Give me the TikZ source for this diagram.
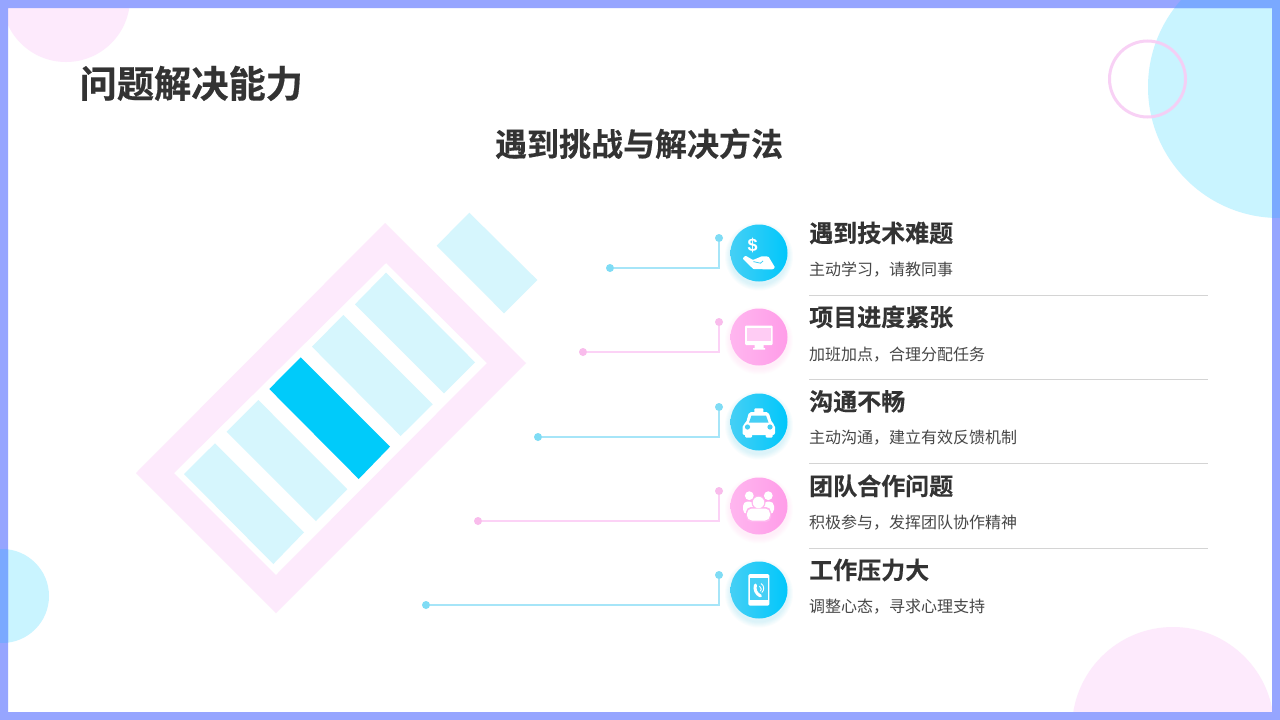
\documentclass[tikz,border=0pt]{standalone}
\usepackage{fontspec}
\setmainfont{Noto Sans CJK SC}
\newfontfamily\cjkbold{Noto Sans CJK SC Bold}
\newfontfamily\cjkheavy[FakeBold=0.5]{Noto Sans CJK SC Bold}
\newfontfamily\cjkhead[FakeBold=0.25]{Noto Sans CJK SC Bold}
\newfontfamily\latinbold{Liberation Sans Bold}
\definecolor{bar}{HTML}{96A5FF}
\definecolor{barmix}{HTML}{7AA9FF}
\definecolor{softpink}{HTML}{FDEAFC}
\definecolor{softcyan}{HTML}{C9F4FF}
\definecolor{cellc}{HTML}{D6F6FD}
\definecolor{cellhi}{HTML}{00CBFA}
\definecolor{ink}{HTML}{333333}
\definecolor{lineblue}{HTML}{A6E5F8}
\definecolor{dotblue}{HTML}{7FDCF5}
\definecolor{linepink}{HTML}{FCD2F6}
\definecolor{dotpink}{HTML}{F9BCEC}
\definecolor{ringc}{HTML}{F8CCF4}
\definecolor{rule}{HTML}{D4D4D4}
\definecolor{bluea}{HTML}{45CFF5}
\definecolor{blueb}{HTML}{00C7FB}
\definecolor{pinka}{HTML}{FFB6EF}
\definecolor{pinkb}{HTML}{FF9CE8}
\tikzset{
  x=1pt,y=-1pt,
  enddot/.style={circle,inner sep=0pt,minimum size=8pt,draw=none},
  bluedot/.style={enddot,fill=dotblue},
  pinkdot/.style={enddot,fill=dotpink},
  blueicon/.style={circle,inner sep=0pt,minimum size=57pt,shade,shading angle=135,left color=bluea,right color=blueb},
  pinkicon/.style={circle,inner sep=0pt,minimum size=57pt,shade,shading angle=135,left color=pinka,right color=pinkb},
  heading/.style={anchor=base west,inner sep=0pt,text=ink,font=\cjkhead\fontsize{24}{24}\selectfont},
  detail/.style={anchor=base west,inner sep=0pt,text=ink!90,font=\fontsize{16}{16}\selectfont},
  bluewire/.style={draw=lineblue,line width=1.05pt},
  pinkwire/.style={draw=linepink,line width=1.05pt},
  sepline/.style={draw=rule,line width=1pt},
}
\newcommand{\softshadow}[3]{%
  \foreach \rr in {29,30,31,32,33,34}{\fill[#3,opacity=.03] (#1,#2+3.5) circle[radius=\rr];}}
\begin{document}
\begin{tikzpicture}
\useasboundingbox (0,0) rectangle (1280,720);
\fill[white] (0,0) rectangle (1280,720);
% corner decorations
\fill[softpink] (66,-2) circle[radius=64];
\fill[softpink] (1173,728) circle[radius=101];
\fill[softcyan] (1279,87) circle[radius=131];
\fill[softcyan] (2,596) circle[radius=47];
% frame
\fill[bar,even odd rule] (0,0) rectangle (1280,720) (8,8) rectangle (1272,712);
\begin{scope}
  \clip (0,0) rectangle (1280,8) (1272,0) rectangle (1280,720) (0,0) rectangle (8,720);
  \fill[barmix] (1279,87) circle[radius=131];
  \fill[barmix] (2,596) circle[radius=47];
\end{scope}
\draw[color=ringc,opacity=.9,line width=3pt] (1147.5,79) circle[radius=38];
% battery
\fill[softpink,even odd rule] (385,223) -- (526,363) -- (276,613) -- (136,473) -- cycle
  (386,263) -- (487,363) -- (276,575) -- (174,473) -- cycle;
\fill[cellc] (215,443.3) -- (304,532.3) -- (273.3,564) -- (184,474) -- cycle;
\fill[cellc] (258.3,400) -- (347.3,489.3) -- (316,521) -- (226.7,431.7) -- cycle;
\fill[cellhi] (300.7,357.3) -- (390,446.7) -- (358.7,479) -- (269.3,389) -- cycle;
\fill[cellc] (343.3,315) -- (432.7,404.3) -- (400.7,436) -- (312,346.7) -- cycle;
\fill[cellc] (386,272.7) -- (475,362.3) -- (444,393.3) -- (355,304.3) -- cycle;
\fill[cellc] (469.3,212.7) -- (537.3,280) -- (504,313.3) -- (436.7,245.7) -- cycle;
% titles
\node[anchor=base west,inner sep=0pt,text=ink,font=\cjkheavy\fontsize{37.2}{37.2}\selectfont] (title) at (79.5,97.5) {问题解决能力};
\node[anchor=base,inner sep=0pt,text=ink,font=\cjkhead\fontsize{32}{32}\selectfont] (subtitle) at (639,156) {遇到挑战与解决方法};
% connectors
\node[bluedot] (top1) at (719,238) {};
\node[bluedot] (end1) at (610,268) {};
\node[pinkdot] (top2) at (719,322) {};
\node[pinkdot] (end2) at (583,352) {};
\node[bluedot] (top3) at (719,407) {};
\node[bluedot] (end3) at (538,437) {};
\node[pinkdot] (top4) at (719,491) {};
\node[pinkdot] (end4) at (478,521) {};
\node[bluedot] (top5) at (719,575) {};
\node[bluedot] (end5) at (426,605) {};
\draw[bluewire] (top1) |- (end1);
\draw[pinkwire] (top2) |- (end2);
\draw[bluewire] (top3) |- (end3);
\draw[pinkwire] (top4) |- (end4);
\draw[bluewire] (top5) |- (end5);
% icon discs
\softshadow{759}{253}{bluea}
\softshadow{759}{337}{pinka}
\softshadow{759}{422}{bluea}
\softshadow{759}{506}{pinka}
\softshadow{759}{590}{bluea}
\node[blueicon] (icon1) at (759,253) {};
\node[pinkicon] (icon2) at (759,337) {};
\node[blueicon] (icon3) at (759,422) {};
\node[pinkicon] (icon4) at (759,506) {};
\node[blueicon] (icon5) at (759,590) {};
% hand and coin
\begin{scope}[shift={(759,253)}]
  \node[inner sep=0pt,text=white,font=\latinbold\fontsize{18}{18}\selectfont] (coin) at (-6.3,-8) {\$};
  \fill[white,rounded corners=.8pt] (-16.5,5.5) -- (-13.5,2.7) -- (-6,7) -- (3,3.2) -- (9.5,3.6) -- (16,14.5) -- (14,16.3) -- (-5.5,16.2) -- cycle;
  \draw[bluea,line width=.8pt] (-5.5,8.6) -- (1.5,10.2) -- (4,8);
\end{scope}
% monitor
\begin{scope}[shift={(759,337)}]
  \fill[white,rounded corners=1pt] (-14,-11.5) rectangle (13.5,8);
  \fill[pinka!70!white] (-12,-9.5) rectangle (11.5,3.5);
  \fill[white] (-4.5,8) rectangle (4.5,11) (-6,11) rectangle (6,12.5);
\end{scope}
% taxi
\begin{scope}[shift={(759,422)}]
  \fill[white,rounded corners=1pt] (-4.7,-13.7) rectangle (4.3,-9);
  \fill[white,rounded corners=2pt] (-10,-10) -- (9.5,-10) -- (13,1) -- (16,3) -- (16,13) -- (-16.5,13) -- (-16.5,3) -- (-13,1) -- cycle;
  \fill[white,rounded corners=1pt] (-14,12) rectangle (-7,15.5) (6.5,12) rectangle (13.5,15.5);
  \fill[bluea] (-7.5,-6.5) -- (7,-6.5) -- (9.5,0.5) -- (-10,0.5) -- cycle;
  \fill[bluea] (-11.5,5) circle[radius=2.6] (11,5) circle[radius=2.6];
\end{scope}
% people
\begin{scope}[shift={(759,506)}]
  \fill[white] (-9.7,-10.3) circle[radius=4.4] (9.3,-10.3) circle[radius=4.4];
  \fill[white,rounded corners=4.5pt] (-16,-4.5) rectangle (-5,8) (4,-4.5) rectangle (15,8);
  \fill[pinka] (-.5,-3.5) circle[radius=7];
  \fill[pinka,rounded corners=5pt] (-13,1) rectangle (12,16);
  \fill[white] (-.5,-3.5) circle[radius=5.7];
  \fill[white,rounded corners=5pt] (-12,2.5) -- (11,2.5) -- (11,14.5) -- (-12,14.5) -- cycle;
\end{scope}
% phone
\begin{scope}[shift={(759,590)}]
  \fill[white,rounded corners=1.5pt] (-10.7,-16) rectangle (10.3,15.7);
  \fill[bluea] (-9,-11.7) rectangle (8.7,10);
  \fill[white] (0,12.8) circle[radius=1.3];
  \draw[white,line width=3pt,line cap=round] (-3.5,-5) .. controls (-5,-1) and (-3,4) .. (1.5,6);
  \draw[white,line width=.9pt] (0.5,-4) arc[start angle=-60,end angle=40,radius=3.5];
  \draw[white,line width=.9pt] (2,-6.5) arc[start angle=-60,end angle=50,radius=5.5];
\end{scope}
% texts
\node[heading] (h1) at (809,242) {遇到技术难题};
\node[detail] (d1) at (809,275) {主动学习，请教同事};
\node[heading] (h2) at (809,326) {项目进度紧张};
\node[detail] (d2) at (809,360) {加班加点，合理分配任务};
\node[heading] (h3) at (809,410.5) {沟通不畅};
\node[detail] (d3) at (809,443.5) {主动沟通，建立有效反馈机制};
\node[heading] (h4) at (809,495) {团队合作问题};
\node[detail] (d4) at (809,528) {积极参与，发挥团队协作精神};
\node[heading] (h5) at (809,579) {工作压力大};
\node[detail] (d5) at (809,612.5) {调整心态，寻求心理支持};
% separators
\coordinate (s1a) at (809,295); \coordinate (s1b) at (1208,295);
\coordinate (s2a) at (809,379); \coordinate (s2b) at (1208,379);
\coordinate (s3a) at (809,463.5); \coordinate (s3b) at (1208,463.5);
\coordinate (s4a) at (809,548); \coordinate (s4b) at (1208,548);
\draw[sepline] (s1a) -- (s1b);
\draw[sepline] (s2a) -- (s2b);
\draw[sepline] (s3a) -- (s3b);
\draw[sepline] (s4a) -- (s4b);
\end{tikzpicture}
\end{document}
